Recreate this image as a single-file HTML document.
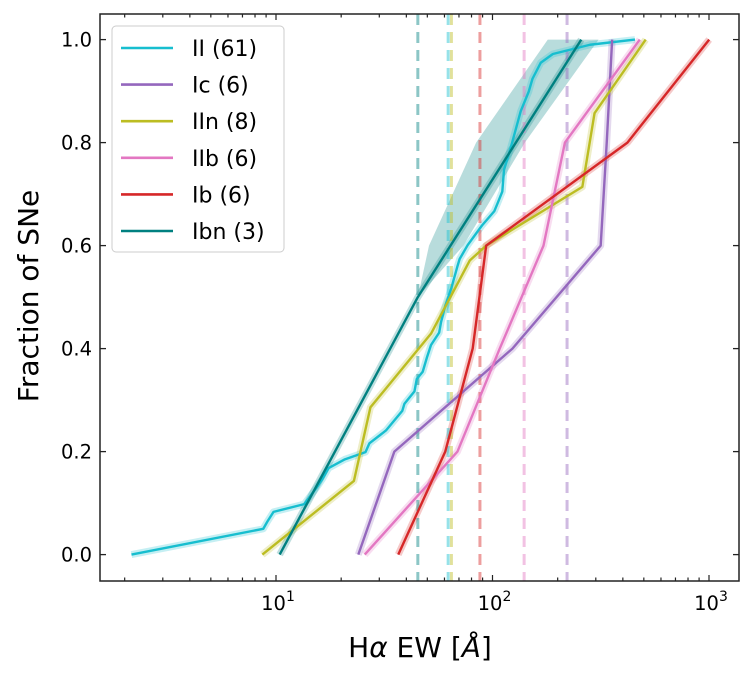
<!DOCTYPE html>
<html><head><meta charset="utf-8"><style>
body{margin:0;background:#fff;width:753px;height:675px;overflow:hidden}
svg text{font-family:"DejaVu Sans","Liberation Sans",sans-serif;fill:#000}
</style></head><body>
<svg id="chart" width="753" height="675" xmlns="http://www.w3.org/2000/svg">
<g id="bands"></g>
<g id="vlines"></g>
<g id="series"></g>
<rect x="100" y="14" width="639" height="567" fill="none" stroke="#222" stroke-width="1.5"/>
<g id="axes"></g>
<text x="420" y="657" font-size="28" text-anchor="middle">H<tspan font-style="italic">α</tspan> EW [<tspan font-style="italic">Å</tspan>]</text>
<text transform="translate(38,296) rotate(-90)" font-size="28" text-anchor="middle">Fraction of SNe</text>
<g id="legend"></g>
</svg>
<script>
const iiX=[2.15,8.73,9.12,9.74,13.5,15.4,16.4,17.5,20.8,25.9,27.0,32.2,38.3,39.2,43.6,44.7,47.6,49.8,52.0,56.7,57.9,60.5,64.6,68.9,70.5,76.8,89.4,102,106,111,113,118.5,123.6,135,147,153,167,190,282,455];
const iiY=[0,0.05,0.064,0.083,0.098,0.13,0.147,0.168,0.185,0.199,0.216,0.241,0.279,0.293,0.317,0.341,0.355,0.383,0.407,0.431,0.452,0.483,0.518,0.56,0.574,0.601,0.639,0.667,0.684,0.705,0.747,0.775,0.802,0.861,0.899,0.924,0.955,0.972,0.99,1.0];
const icX=[24.0,35.2,123.6,316,337,357];
const icY=[0,0.2,0.4,0.6,0.8,1.0];
const iinX=[8.65,22.9,27.3,52.0,78.5,93.5,260,296,510];
const iinY=[0,0.143,0.286,0.429,0.571,0.6,0.714,0.857,1.0];
const iibX=[25.7,68.9,108,172,216,479];
const iibY=[0,0.2,0.4,0.6,0.8,1.0];
const ibX=[36.7,60.5,81,93.5,420,1002];
const ibY=[0,0.2,0.4,0.6,0.8,1.0];
const ibnX=[10.4,45.2,257];
const ibnY=[0,0.5,1.0];
const ibnBandY=[0.5,0.6,0.8,1.0];
const ibnBandLo=[45.2,50.9,84,180];
const ibnBandHi=[45.2,73.4,141,309];
const medians=[45.2,62.4,64.6,87.5,140,221];
const medianColors=["#008080","#17becf","#bcbd22","#d62728","#e377c2","#9467bd"];
const legendLabels=["II (61)","Ic (6)","IIn (8)","IIb (6)","Ib (6)","Ibn (3)"];
const yTicks=[0,0.2,0.4,0.6,0.8,1.0];
const xDecades=[1,2,3];

const NS="http://www.w3.org/2000/svg";
function X(v){return 276+(Math.log10(v)-1)*216.5;}
function Y(v){return 554.6-v*515;}
function el(tag,attrs,parent){const e=document.createElementNS(NS,tag);for(const k in attrs)e.setAttribute(k,attrs[k]);parent.appendChild(e);return e;}
const bands=document.getElementById('bands'),vl=document.getElementById('vlines'),ser=document.getElementById('series'),ax=document.getElementById('axes'),lg=document.getElementById('legend');

let pts=ibnBandLo.map((v,i)=>X(v)+','+Y(ibnBandY[i]));
for(let i=ibnBandHi.length-1;i>=0;i--)pts.push(X(ibnBandHi[i])+','+Y(ibnBandY[i]));
let b=el('polygon',{points:pts.join(' '),fill:'#008080','fill-opacity':0.28},bands);



const series=[[iiX,iiY,"#17becf","ii"],[icX,icY,"#9467bd","ic"],[iinX,iinY,"#bcbd22","iin"],[iibX,iibY,"#e377c2","iib"],[ibX,ibY,"#d62728","ib"],[ibnX,ibnY,"#008080","ibn"]];
series.forEach(s=>{const p=s[0].map((v,i)=>X(v)+','+Y(s[1][i])).join(' ');
 const g=el('polyline',{points:p,fill:'none',stroke:s[2],'stroke-opacity':0.25,'stroke-width':7,'stroke-linejoin':'round'},bands);
 
 });

medians.forEach((m,i)=>{const l=el('line',{x1:X(m),x2:X(m),y1:14,y2:581,stroke:medianColors[i],'stroke-opacity':0.45,'stroke-width':3,'stroke-dasharray':'11,7'},vl);
 
 });

series.forEach(s=>{const p=s[0].map((v,i)=>X(v)+','+Y(s[1][i])).join(' ');
 const l=el('polyline',{points:p,fill:'none',stroke:s[2],'stroke-width':2.4,'stroke-linejoin':'round'},ser);
 
 });

yTicks.forEach(t=>{const y=Y(t);
 el('line',{x1:100,x2:106,y1:y,y2:y,stroke:'#222','stroke-width':1.3},ax);
 el('line',{x1:733,x2:739,y1:y,y2:y,stroke:'#222','stroke-width':1.3},ax);
 const tx=el('text',{x:92,y:y+7,'font-size':19.5,'text-anchor':'end'},ax);tx.textContent=t.toFixed(1);
 
 });
for(let d=0;d<=3;d++){for(let m=1;m<10;m++){const v=m*Math.pow(10,d);const x=X(v);if(x<100||x>739)continue;
 const len=m===1?6:3.5;
 el('line',{x1:x,x2:x,y1:581,y2:581-len,stroke:'#222','stroke-width':1.2},ax);
 el('line',{x1:x,x2:x,y1:14,y2:14+len,stroke:'#222','stroke-width':1.2},ax);}}
xDecades.forEach(d=>{const x=X(Math.pow(10,d));const t=el('text',{x:x+2,y:610,'font-size':19.5,'text-anchor':'middle'},ax);
 t.innerHTML='10<tspan dy="-9" font-size="14">'+d+'</tspan>';
 
 });

el('rect',{x:112,y:26,width:172,height:226,rx:4,fill:'#fff','fill-opacity':0.85,stroke:'#ccc'},lg);
legendLabels.forEach((lab,i)=>{const y=48+i*36.6;
 el('line',{x1:121,x2:173,y1:y,y2:y,stroke:series[i][2],'stroke-width':2.6},lg);
 const t=el('text',{x:192,y:y+8,'font-size':22},lg);t.textContent=lab;
 
 });
</script>
</body></html>
